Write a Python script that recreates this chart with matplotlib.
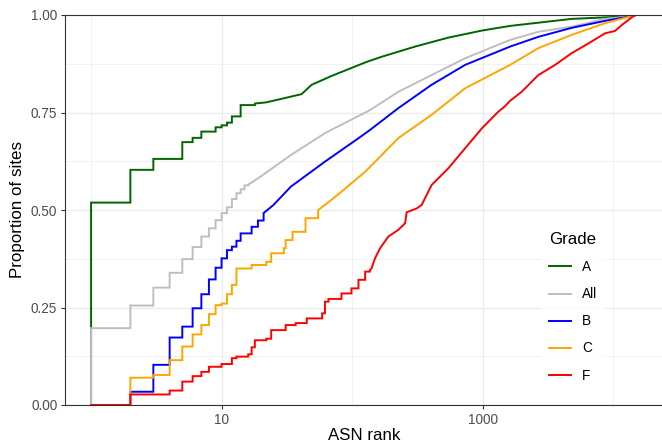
"""ECDF of ASN rank per site grade, log-scaled x axis (ggplot theme_bw look)."""

import matplotlib

matplotlib.use("Agg")
import matplotlib.pyplot as plt
import matplotlib.ticker as ticker

plt.rcParams["font.family"] = ["Liberation Sans", "DejaVu Sans"]

GRADES = ["A", "All", "B", "C", "F"]
COLORS = {"A": "#006400", "All": "#BEBEBE", "B": "#0000FF", "C": "#FFA500", "F": "#FF0000"}

# low ranks: visible stair steps (rank -> proportion from that rank on)
A_STEP_RANK = [1, 2, 3, 5, 6, 7, 9, 10, 11, 12, 14]
A_STEP_PROP = [0.519, 0.603, 0.631, 0.674, 0.685, 0.701, 0.712, 0.717, 0.724, 0.740, 0.769]
# higher ranks: dense steps, read as a curve
A_CURVE_RANK = [18, 22, 41, 49, 70, 130, 169, 304, 547, 986, 1626, 4819, 13800, 15000]
A_CURVE_PROP = [0.773, 0.776, 0.797, 0.821, 0.844, 0.880, 0.893, 0.919, 0.942, 0.960, 0.972, 0.990, 0.997, 1.0]

ALL_STEP_RANK = [1, 2, 3, 4, 5, 6, 7, 8, 9, 10, 11, 12, 13, 14, 15]
ALL_STEP_PROP = [0.197, 0.255, 0.301, 0.339, 0.374, 0.405, 0.432, 0.453, 0.474, 0.492,
                 0.507, 0.528, 0.543, 0.553, 0.563]
ALL_CURVE_RANK = [16, 19, 34, 62, 137, 226, 407, 735, 1626, 2679, 4819, 8690, 13800, 15000]
ALL_CURVE_PROP = [0.565, 0.581, 0.641, 0.697, 0.756, 0.803, 0.846, 0.889, 0.936, 0.957,
                  0.970, 0.990, 0.997, 1.0]

B_STEP_RANK = [1, 2, 3, 4, 5, 6, 7, 8, 9, 10, 11, 12, 13, 14, 17, 19]
B_STEP_PROP = [0.0, 0.034, 0.103, 0.173, 0.201, 0.248, 0.284, 0.322, 0.352, 0.376, 0.397,
               0.406, 0.421, 0.440, 0.457, 0.473]
B_CURVE_RANK = [21, 25, 34, 62, 112, 137, 226, 407, 735, 1626, 2679, 4819, 8690, 13800, 15000]
B_CURVE_PROP = [0.492, 0.513, 0.560, 0.624, 0.684, 0.705, 0.761, 0.821, 0.872, 0.919,
                0.944, 0.967, 0.985, 0.997, 1.0]

C_STEP_RANK = [1, 2, 3, 4, 5, 6, 7, 8, 9, 10, 11, 12, 13, 17, 22, 24, 30, 31, 35, 44]
C_STEP_PROP = [0.0, 0.070, 0.077, 0.115, 0.150, 0.181, 0.205, 0.233, 0.256, 0.260, 0.284,
               0.308, 0.350, 0.359, 0.367, 0.389, 0.402, 0.423, 0.444, 0.479]
C_CURVE_RANK = [55, 62, 83, 126, 226, 407, 735, 1626, 2679, 4819, 8690, 13800, 15000]
C_CURVE_PROP = [0.500, 0.513, 0.547, 0.598, 0.684, 0.744, 0.812, 0.872, 0.915, 0.949,
                0.979, 0.997, 1.0]

F_STEP_RANK = [1, 2, 4, 5, 6, 7, 8, 10, 12, 13, 16, 17, 18, 22, 24, 31, 37, 45, 59, 62, 66,
               83, 99, 112, 126]
F_STEP_PROP = [0.0, 0.027, 0.037, 0.060, 0.074, 0.085, 0.098, 0.105, 0.120, 0.124, 0.130,
               0.148, 0.166, 0.170, 0.192, 0.205, 0.210, 0.222, 0.235, 0.265, 0.272,
               0.286, 0.299, 0.321, 0.342]
F_CURVE_RANK = [137, 141, 150, 164, 190, 226, 255, 262, 313, 342, 407, 547, 735, 986, 1321,
                1486, 1626, 1995, 2679, 3597, 4819, 6471, 8690, 10350, 11660, 14320, 15000]
F_CURVE_PROP = [0.346, 0.350, 0.376, 0.402, 0.432, 0.449, 0.466, 0.494, 0.504, 0.513,
                0.564, 0.607, 0.658, 0.709, 0.752, 0.766, 0.780, 0.803, 0.846, 0.872,
                0.902, 0.927, 0.953, 0.959, 0.974, 0.997, 1.0]

SERIES = {
    "A": (A_STEP_RANK, A_STEP_PROP, A_CURVE_RANK, A_CURVE_PROP),
    "All": (ALL_STEP_RANK, ALL_STEP_PROP, ALL_CURVE_RANK, ALL_CURVE_PROP),
    "B": (B_STEP_RANK, B_STEP_PROP, B_CURVE_RANK, B_CURVE_PROP),
    "C": (C_STEP_RANK, C_STEP_PROP, C_CURVE_RANK, C_CURVE_PROP),
    "F": (F_STEP_RANK, F_STEP_PROP, F_CURVE_RANK, F_CURVE_PROP),
}

GRID = "#EBEBEB"
DARK = "#333333"


def ecdf_path(step_r, step_p, curve_r, curve_p, x1):
    # starts at the first rank from 0; padded with 1 out to the right edge
    xs, ys = [], []
    prev = 0.0
    for r, p in zip(step_r, step_p):
        xs += [r, r]
        ys += [prev, p]
        prev = p
    xs.append(curve_r[0])
    ys.append(prev)
    xs += list(curve_r)
    ys += list(curve_p)
    xs.append(x1)
    ys.append(1.0)
    return xs, ys


def main() -> None:
    fig = plt.figure(figsize=(6.62, 4.42), dpi=100)
    ax = fig.add_axes([65 / 662, 1 - 405 / 442, (664 - 65) / 662, 390 / 442])

    ax.set_xscale("log")
    x0, x1 = 10 ** -0.2, 10 ** 4.391
    ax.set_xlim(x0, x1)
    ax.set_ylim(0, 1)

    handles = []
    for g in GRADES:
        xs, ys = ecdf_path(*SERIES[g], x1)
        (ln,) = ax.plot(xs, ys, color=COLORS[g], lw=1.4, label=g, solid_joinstyle="miter")
        handles.append(ln)

    ax.xaxis.set_major_locator(ticker.FixedLocator([10, 1000]))
    ax.xaxis.set_minor_locator(ticker.FixedLocator([1, 100, 10000]))
    ax.xaxis.set_major_formatter(ticker.FixedFormatter(["10", "1000"]))
    ax.xaxis.set_minor_formatter(ticker.NullFormatter())
    ax.yaxis.set_major_locator(ticker.FixedLocator([0, 0.25, 0.5, 0.75, 1.0]))
    ax.yaxis.set_minor_locator(ticker.FixedLocator([0.125, 0.375, 0.625, 0.875]))
    ax.yaxis.set_major_formatter(ticker.FuncFormatter(lambda v, _: f"{v:.2f}"))

    ax.grid(which="major", color=GRID, lw=0.95)
    ax.grid(which="minor", color=GRID, lw=0.5)
    ax.set_axisbelow(True)
    ax.tick_params(which="major", length=3, width=0.8, color=DARK, labelcolor="#4D4D4D",
                   labelsize=9.8, pad=2.5)
    ax.tick_params(which="minor", length=0)
    for sp in ax.spines.values():
        sp.set_color(DARK)
        sp.set_linewidth(0.8)

    ax.set_xlabel("ASN rank", fontsize=12.2, labelpad=1)
    ax.set_ylabel("Proportion of sites", fontsize=12.2, labelpad=4)

    leg = ax.legend(handles=handles, title="Grade", loc="upper left",
                    bbox_to_anchor=(541 / 662, 1 - 224 / 442), bbox_transform=fig.transFigure,
                    fontsize=9.8, title_fontsize=12.2, frameon=True, fancybox=False,
                    handlelength=1.62, handletextpad=0.8, labelspacing=0.96,
                    borderpad=0.6, borderaxespad=0, alignment="left")
    leg.get_frame().set_facecolor("white")
    leg.get_frame().set_edgecolor("none")

    fig.savefig("out.png", dpi=100, facecolor="white")
    plt.close(fig)


if __name__ == "__main__":
    main()
